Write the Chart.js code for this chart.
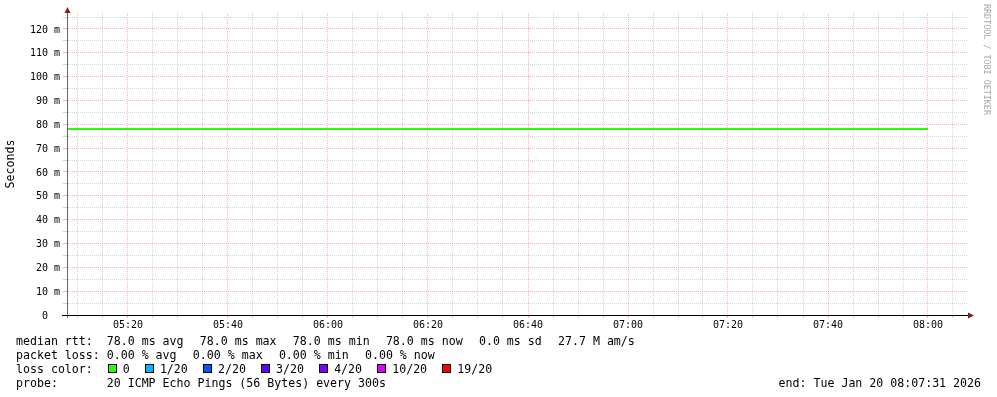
<!DOCTYPE html>
<html><head><meta charset="utf-8">
<script src="https://cdn.jsdelivr.net/npm/chart.js@4/dist/chart.umd.min.js"></script>
<style>
html,body{margin:0;padding:0;background:#fff;}
#wrap{position:relative;width:997px;height:397px;overflow:hidden;background:#fff;}
#c{position:absolute;left:0;top:0;}
.leg{position:absolute;left:16px;font-family:'DejaVu Sans Mono',monospace;font-size:11.6px;line-height:14px;white-space:pre;color:#000;}
.g{margin-left:2.3px}
.gb{margin-left:1.2px}
.box{display:inline-block;width:7px;height:7px;border:1px solid #000;margin-right:6px;vertical-align:baseline;}
.b0{margin-left:1px}
#endt{position:absolute;right:16px;top:376px;font-family:'DejaVu Sans Mono',monospace;font-size:11.6px;line-height:14px;white-space:pre;color:#000;}
#wm{position:absolute;left:982px;top:4px;font-family:'DejaVu Sans Mono',monospace;font-size:8.4px;line-height:10px;writing-mode:vertical-rl;color:#a8a8a8;white-space:pre;}
</style>
</head>
<body>
<div id="wrap">
<canvas id="c" width="997" height="397"></canvas>
<div class="leg" id="l1" style="top:334px"></div>
<div class="leg" id="l2" style="top:348px"></div>
<div class="leg" id="l3" style="top:362px"></div>
<div class="leg" id="l4" style="top:376px"></div>
<div id="endt"></div>
<div id="wm">RRDTOOL / TOBI OETIKER</div>
</div>
<script>
// ---- data ----
const times = ['05:05','05:10','05:15','05:20','05:25','05:30','05:35','05:40','05:45','05:50','05:55',
  '06:00','06:05','06:10','06:15','06:20','06:25','06:30','06:35','06:40','06:45','06:50','06:55',
  '07:00','07:05','07:10','07:15','07:20','07:25','07:30','07:35','07:40','07:45','07:50','07:55','08:00'];
const medianRtt = [0.078,0.078,0.078,0.078,0.078,0.078,0.078,0.078,0.078,0.078,0.078,
  0.078,0.078,0.078,0.078,0.078,0.078,0.078,0.078,0.078,0.078,0.078,0.078,
  0.078,0.078,0.078,0.078,0.078,0.078,0.078,0.078,0.078,0.078,0.078,0.078,0.078];
const xTickLabels = ['05:20','05:40','06:00','06:20','06:40','07:00','07:20','07:40','08:00'];
const yTickValues = [0,0.01,0.02,0.03,0.04,0.05,0.06,0.07,0.08,0.09,0.10,0.11,0.12];
const yTickLabels = ['0  ','10 m','20 m','30 m','40 m','50 m','60 m','70 m','80 m','90 m','100 m','110 m','120 m'];
const rangeStart = '05:07:48';
const rangeEnd = '08:07:48';
const rttLabel = 'median rtt:  ';
const rttStats = ['78.0 ms avg  ','78.0 ms max  ','78.0 ms min  ','78.0 ms now  ','0.0 ms sd  ','27.7 M am/s'];
const lossLabel = 'packet loss: ';
const lossStats = ['0.00 % avg  ','0.00 % max  ','0.00 % min  ','0.00 % now'];
const lossColorLabel = 'loss color:  ';
const lossLabels = ['0','1/20','2/20','3/20','4/20','10/20','19/20'];
const lossColors = ['#26ff00','#00b8ff','#0059ff','#5e00ff','#7e00ff','#dd00ff','#ff0000'];
const probeText = 'probe:       20 ICMP Echo Pings (56 Bytes) every 300s';
const endText = 'end: Tue Jan 20 08:07:31 2026';

// ---- legend text ----
function esc(s){return s.replace(/&/g,'&amp;').replace(/</g,'&lt;');}
document.getElementById('l1').innerHTML = esc(rttLabel) + rttStats.map((s,i)=>'<span class="'+(i?'g':'')+'">'+esc(s)+'</span>').join('');
document.getElementById('l2').innerHTML = esc(lossLabel) + lossStats.map((s,i)=>'<span class="'+(i?'g':'')+'">'+esc(s)+'</span>').join('');
document.getElementById('l3').innerHTML = esc(lossColorLabel) + lossLabels.map((s,i)=>
  '<span class="'+(i?'gb':'')+'"><span class="box'+(i?'':' b0')+'" style="background:'+lossColors[i]+'"></span>'+esc(s)+(i<lossLabels.length-1?'  ':'')+'</span>').join('');
document.getElementById('l4').textContent = probeText;
document.getElementById('endt').textContent = endText;

// ---- chart ----
function toMin(s){const p=s.split(':').map(Number);return p[0]*60+p[1]+(p[2]||0)/60;}
function fmt(v){const m=Math.round(v);const h=Math.floor(m/60),mm=m%60;return String(h).padStart(2,'0')+':'+String(mm).padStart(2,'0');}
const xMin = toMin(rangeStart), xMax = toMin(rangeEnd);
const MAJOR = 'rgba(255,0,0,0.3)';
const MINOR = 'rgba(128,128,128,0.32)';
const FONT = 'DejaVu Sans Mono';

const arrows = {
  id:'arrows',
  afterDraw(chart){
    const {ctx, chartArea:a} = chart;
    ctx.save();
    ctx.lineWidth = 1;
    ctx.strokeStyle = '#666';
    ctx.beginPath(); ctx.moveTo(a.left+0.5, a.bottom+3); ctx.lineTo(a.left+0.5, a.top-4); ctx.stroke();
    ctx.strokeStyle = '#000';
    ctx.beginPath(); ctx.moveTo(a.left-5, a.bottom+0.5); ctx.lineTo(a.right+2, a.bottom+0.5); ctx.stroke();
    ctx.fillStyle = '#8b1a1a';
    ctx.beginPath(); ctx.moveTo(a.left-2.5, a.top); ctx.lineTo(a.left+3.5, a.top); ctx.lineTo(a.left+0.5, a.top-6); ctx.closePath(); ctx.fill();
    ctx.beginPath(); ctx.moveTo(a.right+1, a.bottom-2.5); ctx.lineTo(a.right+1, a.bottom+3.5); ctx.lineTo(a.right+7, a.bottom+0.5); ctx.closePath(); ctx.fill();
    ctx.restore();
  }
};

new Chart(document.getElementById('c'), {
  type:'line',
  data:{ datasets:[{
    data: times.map((t,i)=>({x:toMin(t), y:medianRtt[i]})),
    borderColor:'#26ff00', borderWidth:2, pointRadius:0, tension:0, fill:false
  }]},
  options:{
    responsive:false, animation:false, events:[],
    layout:{padding:{left:0,right:30,top:13,bottom:0}},
    plugins:{legend:{display:false}, tooltip:{enabled:false}},
    scales:{
      x:{ type:'linear', min:xMin, max:xMax,
        afterBuildTicks(s){ const t=[]; for(let v=Math.ceil(xMin/5)*5; v<=xMax; v+=5) t.push({value:v}); s.ticks=t; },
        afterFit(s){ s.height = 82; },
        ticks:{ autoSkip:false, maxRotation:0, minRotation:0, padding:1, color:'#000',
          font:{family:FONT,size:10},
          callback(v){ const l=fmt(v); return xTickLabels.includes(l)?l:''; } },
        grid:{ color:(c)=> (c.tick && Math.round(c.tick.value)%20===0)?MAJOR:MINOR, tickLength:3, lineWidth:1 },
        border:{ display:true, color:'#000', width:1, dash:[1,1] }
      },
      y:{ type:'linear', min:0, max:0.1267,
        afterBuildTicks(s){ const t=[]; for(let k=0;k*0.005<=0.1267;k++) t.push({value:k*0.005}); s.ticks=t; },
        afterFit(s){ s.width = 67; },
        ticks:{ autoSkip:false, padding:3, labelOffset:1, color:'#000', font:{family:FONT,size:10},
          callback(v){ const i=yTickValues.findIndex(x=>Math.abs(x-v)<1e-6); return i>=0?yTickLabels[i]:''; } },
        grid:{ color:(c)=> (c.tick && Math.round(c.tick.value*1000)%10===0)?MAJOR:MINOR, tickLength:4, lineWidth:1 },
        border:{ display:true, color:'#666', width:1, dash:[1,1] },
        title:{ display:true, text:'Seconds', color:'#000', font:{family:FONT,size:11.6}, padding:{top:4,bottom:0} }
      }
    }
  },
  plugins:[arrows]
});
</script>
</body></html>
